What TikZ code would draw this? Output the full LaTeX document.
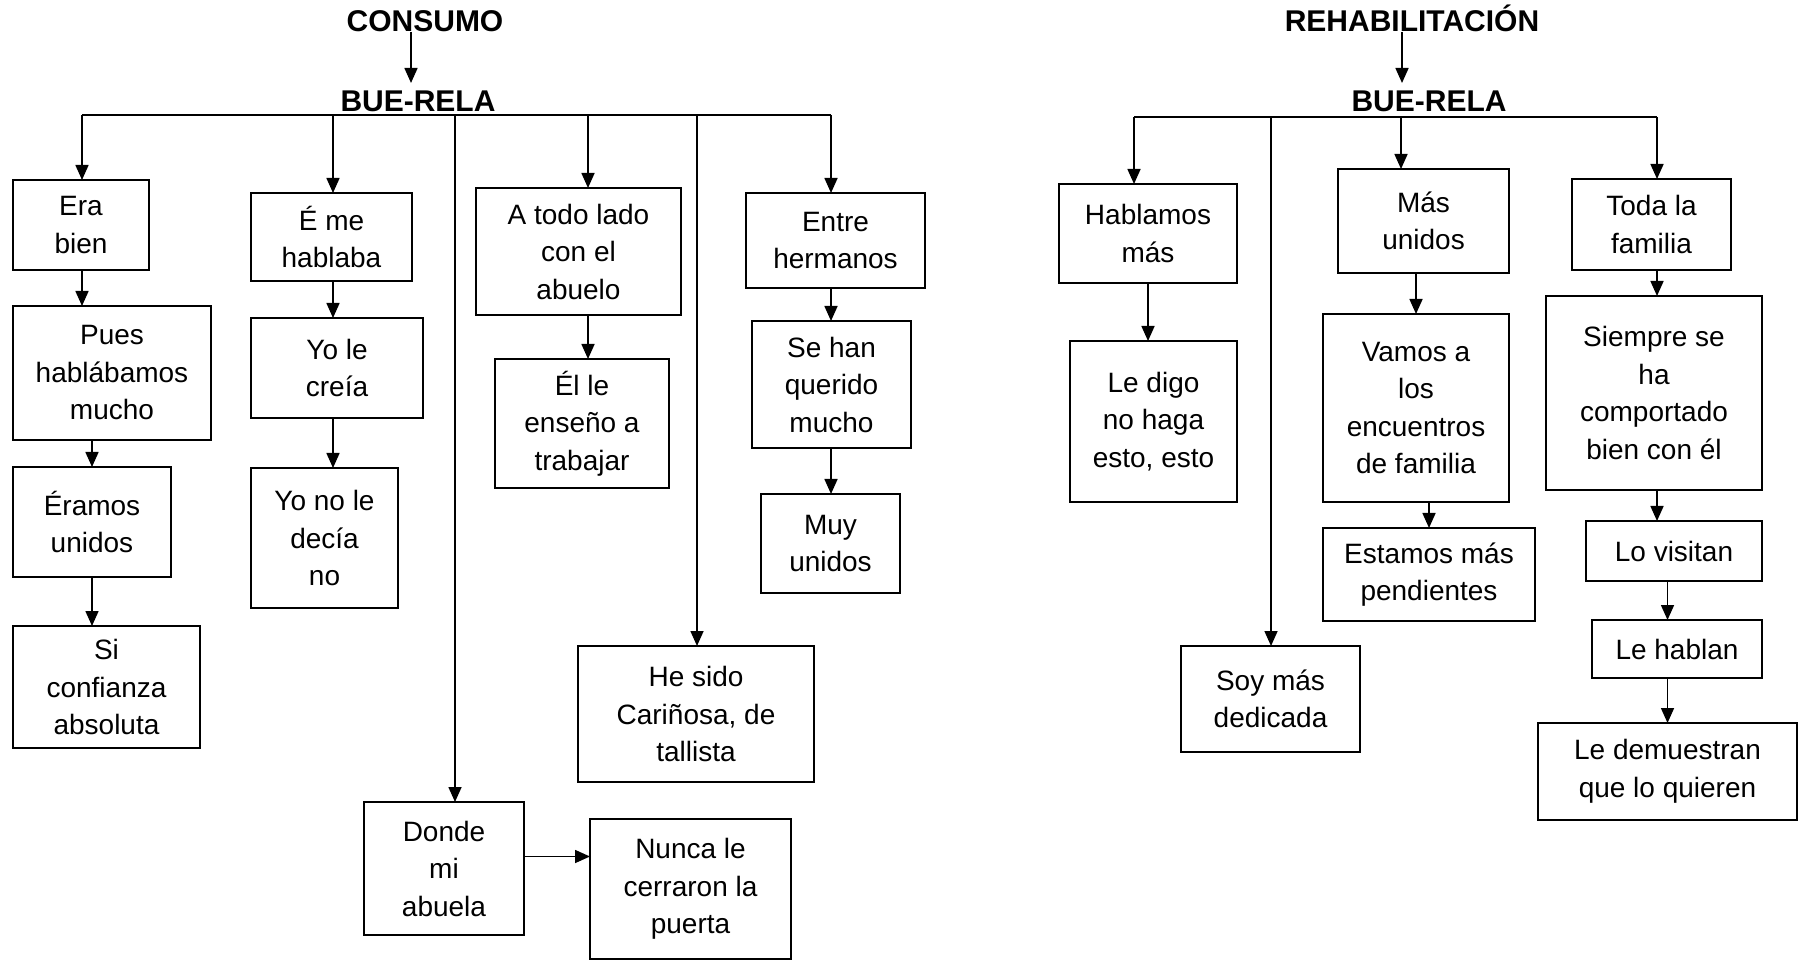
\documentclass[tikz,border=0pt]{standalone}
\usepackage{fontspec}
\setmainfont{Liberation Sans}
\usetikzlibrary{arrows.meta}

\begin{document}
\begin{tikzpicture}[
		x=0.5pt, y=-0.5pt,
		box/.style={rectangle, draw, line width=1pt, inner sep=0pt, outer sep=0pt, align=center, font=\fontsize{14}{18.75}\selectfont},
		wh/.style 2 args={minimum width=#1*0.5pt, minimum height=#2*0.5pt},
		title/.style={inner sep=0pt, anchor=base, font=\fontsize{15}{18}\selectfont\bfseries},
		arr/.style={line width=0.8pt, -{Triangle[length=7.5pt, width=6.5pt]}},
		bus/.style={line width=0.8pt}
	]
  \useasboundingbox (0,0) rectangle (1802,961);

  % consumo
  \node (consumo) [title] at (425,32) {CONSUMO};
  \node (bue_c) [title] at (418,112) {BUE-RELA};
  \coordinate (b1) at (82,115);
  \coordinate (b2) at (333,115);
  \coordinate (b3) at (455,115);
  \coordinate (b4) at (588,115);
  \coordinate (b5) at (697,115);
  \coordinate (b6) at (831,115);

  \node (era) [box, wh={136}{90}] at (81,225) {Era\\bien};
  \node (pues) [box, wh={198}{134}] at (112,373) {Pues\\hablábamos\\mucho};
  \node (eramos) [box, wh={158}{110}] at (92,522) {Éramos\\unidos};
  \node (siconf) [box, wh={187}{122}] at (106.5,687) {Si\\confianza\\absoluta};
  \node (eme) [box, wh={161}{88}] at (331.5,237) {É me\\hablaba};
  \node (yole) [box, wh={172}{100}] at (337,368) {Yo le\\creía};
  \node (yono) [box, wh={147}{140}] at (324.5,538) {Yo no le\\decía\\no};
  \node (todo) [box, wh={205}{127}] at (578.5,251.5) {A todo lado\\con el\\abuelo};
  \node (ense) [box, wh={174}{129}] at (582,423.5) {Él le\\enseño a\\trabajar};
  \node (entre) [box, wh={179}{95}] at (835.5,240.5) {Entre\\hermanos};
  \node (sehan) [box, wh={159}{127}] at (831.5,384.5) {Se han\\querido\\mucho};
  \node (muy) [box, wh={139}{99}] at (830.5,543.5) {Muy\\unidos};
  \node (hesido) [box, wh={236}{136}] at (696,714) {He sido\\Cariñosa, de\\tallista};
  \node (donde) [box, wh={160}{133}] at (444,868.5) {Donde\\mi\\abuela};
  \node (nunca) [box, wh={201}{140}] at (690.5,889) {Nunca le\\cerraron la\\puerta};
  \coordinate (d_out) at ([yshift=6pt]donde.east);

  \draw[arr] ([xshift=-7pt]consumo.base) -- ([xshift=-3.5pt,yshift=14.5pt]bue_c.base);
  \draw[bus] (b1) -- (b6);
  \draw[arr] (b1) -- (b1 |- era.north);
  \draw[arr] (b2) -- (b2 |- eme.north);
  \draw[arr] (b3) -- (b3 |- donde.north);
  \draw[arr] (b4) -- (b4 |- todo.north);
  \draw[arr] (b5) -- (b5 |- hesido.north);
  \draw[arr] (b6) -- (b6 |- entre.north);
  \draw[arr] (era.south -| b1) -- (pues.north -| b1);
  \draw[arr] (pues.south -| eramos.north) -- (eramos.north);
  \draw[arr] (eramos.south) -- (eramos.south |- siconf.north);
  \draw[arr] (eme.south -| b2) -- (yole.north -| b2);
  \draw[arr] (yole.south -| b2) -- (yono.north -| b2);
  \draw[arr] (todo.south -| b4) -- (ense.north -| b4);
  \draw[arr] (entre.south -| b6) -- (sehan.north -| b6);
  \draw[arr] (sehan.south -| b6) -- (muy.north -| b6);
  \draw[arr] (d_out) -- (d_out -| nunca.west);

  % rehabilitacion
  \node (rehab) [title] at (1412,32) {REHABILITACIÓN};
  \node (bue_r) [title] at (1429,112) {BUE-RELA};
  \coordinate (r1) at (1134,117);
  \coordinate (r2) at (1271,117);
  \coordinate (r3) at (1401,117);
  \coordinate (r4) at (1657,117);

  \node (hablamos) [box, wh={178}{99}] at (1148,233.5) {Hablamos\\más};
  \node (ledigo) [box, wh={167}{161}] at (1153.5,421.5) {Le digo\\no haga\\esto, esto};
  \node (soymas) [box, wh={179}{106}] at (1270.5,699) {Soy más\\dedicada};
  \node (masunidos) [box, wh={171}{104}] at (1423.5,221) {Más\\unidos};
  \node (vamos) [box, wh={186}{188}] at (1416,408) {Vamos a\\los\\encuentros\\de familia};
  \node (estamos) [box, wh={212}{93}] at (1429,574.5) {Estamos más\\pendientes};
  \node (toda) [box, wh={159}{91}] at (1651.5,224.5) {Toda la\\familia};
  \node (siempre) [box, wh={216}{194}] at (1654,393) {Siempre se\\ha\\comportado\\bien con él};
  \node (visitan) [box, wh={176}{60}] at (1674,551) {Lo visitan};
  \node (hablan) [box, wh={170}{58}] at (1677,649) {Le hablan};
  \node (demues) [box, wh={259}{97}] at (1667.5,771.5) {Le demuestran\\que lo quieren};

  \draw[arr] ([xshift=-5pt]rehab.base) -- ([xshift=-13.5pt,yshift=14.5pt]bue_r.base);
  \draw[bus] (r1) -- (r4);
  \draw[arr] (r1) -- (r1 |- hablamos.north);
  \draw[arr] (r2) -- (r2 |- soymas.north);
  \draw[arr] (r3) -- (r3 |- masunidos.north);
  \draw[arr] (r4) -- (r4 |- toda.north);
  \draw[arr] (hablamos.south) -- (hablamos.south |- ledigo.north);
  \draw[arr] (masunidos.south -| vamos.north) -- (vamos.north);
  \draw[arr] (vamos.south -| estamos.north) -- (estamos.north);
  \draw[arr] (toda.south -| r4) -- (siempre.north -| r4);
  \draw[arr] (siempre.south -| r4) -- (visitan.north -| r4);
  \draw[arr] (visitan.south -| demues.north) -- (hablan.north -| demues.north);
  \draw[arr] (hablan.south -| demues.north) -- (demues.north);
\end{tikzpicture}
\end{document}
